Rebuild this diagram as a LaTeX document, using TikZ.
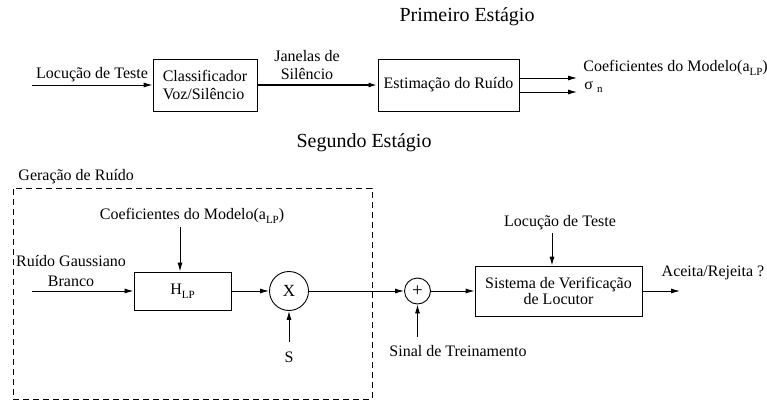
\documentclass[tikz,border=0pt]{standalone}
\usepackage{fontspec}
\setmainfont{Liberation Serif}
\usetikzlibrary{arrows.meta}

\newcommand{\lowsub}[1]{\raisebox{-0.5ex}{\fontsize{11}{11}\selectfont #1}}

\begin{document}
\begin{tikzpicture}[x=1pt,y=-1pt,line width=0.9pt,
    every node/.style={font=\fontsize{16}{18}\selectfont,inner sep=0pt},
    title/.style={font=\fontsize{20}{24}\selectfont},
    outlbl/.style={font=\fontsize{16}{19}\selectfont,anchor=west},
    blockbox/.style={draw,line width=0.9pt},
    sumcirc/.style={draw,circle,line width=0.9pt},
    >={Latex[length=9pt,width=5pt]}]
  \useasboundingbox (0,0) rectangle (767,404);

  % primeiro estagio
  \node[title] (T1) at (467,17) {Primeiro Estágio};
  \node[blockbox,minimum width=104,minimum height=52,align=left,
        font=\fontsize{16}{18}\selectfont] (CLS) at (205,85) {Classificador\\Voz/Silêncio};
  \node[blockbox,minimum width=141,minimum height=52] (EST) at (448.5,85) {Estimação do Ruído};
  \coordinate (IN1) at (32,85);
  \coordinate (OA) at (577,78);
  \coordinate (OS) at (577,92);
  \node (LT1) at (92,75) {Locução de Teste};
  \node[align=center] (JAN) at (307,65) {Janelas de\\Silêncio};
  \node[outlbl] (CF1) at (583,68) {Coeficientes do Modelo(a\lowsub{LP})};
  \node[outlbl] (SG) at (584,87) {σ\hspace{4pt}\lowsub{n}};
  \draw[->] (IN1) -- (CLS.west);
  \draw[->,line width=2.6pt] (CLS.east) -- (EST.west);
  \draw[->] (OA -| EST.east) -- (OA);
  \draw[->] (OS -| EST.east) -- (OS);

  % segundo estagio
  \node[title] (T2) at (364,143) {Segundo Estágio};
  \node[draw,dash pattern=on 6pt off 4pt,minimum width=359,minimum height=211] (GEN) at (192.5,293.5) {};
  \node[anchor=west] (GL) at (18,177) {Geração de Ruído};
  \node (CF2) at (192,216) {Coeficientes do Modelo(a\lowsub{LP})};
  \node[blockbox,minimum width=97,minimum height=38] (HLP) at (182.5,291) {H\lowsub{LP}};
  \node[align=center,font=\fontsize{16}{20}\selectfont] (RGB) at (71,271) {Ruído Gaussiano\\Branco};
  \node[sumcirc,minimum size=39,font=\fontsize{17}{17}\selectfont] (MUL) at (289,291) {X};
  \node (S) at (289,357) {S};
  \node[sumcirc,minimum size=26,font=\fontsize{19}{19}\selectfont] (ADD) at (417.5,291) {+};
  \node (SIN) at (458,351) {Sinal de Treinamento};
  \node[blockbox,minimum width=167,minimum height=50,align=center,
        font=\fontsize{16}{12.5}\selectfont] (SV) at (558.5,291) {Sistema de Verificação\\de Locutor};
  \node (LT2) at (560,223) {Locução de Teste};
  \node (AR) at (713,273) {Aceita/Rejeita ?};
  \coordinate (IN2) at (32,291);
  \coordinate (C2) at (180,227);
  \coordinate (SS) at (289,342);
  \coordinate (ST) at (417.5,337);
  \coordinate (L2) at (552,233);
  \coordinate (OUT) at (680,291);
  \draw[->] (IN2) -- (HLP.west);
  \draw[->] (C2) -- (C2 |- HLP.north);
  \draw[->] (HLP.east) -- (MUL.west);
  \draw[->] (SS) -- (MUL.south);
  \draw[->] (MUL.east) -- (ADD.west);
  \draw[->] (ST) -- (ADD.south);
  \draw[->] (ADD.east) -- (SV.west);
  \draw[->] (L2) -- (L2 |- SV.north);
  \draw[->] (SV.east) -- (OUT);
\end{tikzpicture}
\end{document}
